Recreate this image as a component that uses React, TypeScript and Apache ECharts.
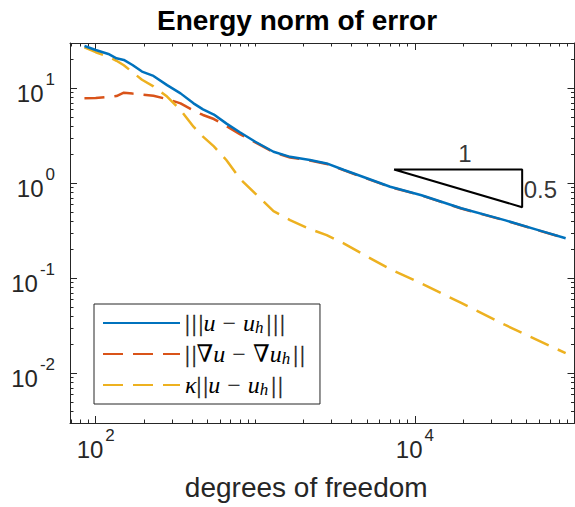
import React, { useEffect, useRef } from 'react';
import * as echarts from 'echarts';

// ---- data ----
const dof = [85, 100, 120, 135, 150, 170, 195, 230, 280, 340, 410, 470, 550, 660, 800, 1000, 1300, 1650, 2200, 2800, 3600, 5000, 7000, 11000, 19500, 36500, 60000, 88000];
const energyErr = [27.9, 25.3, 23, 20.7, 19.9, 17.6, 15, 13.5, 10.8, 8.85, 6.95, 6.0, 5.3, 4.25, 3.45, 2.74, 2.15, 1.9, 1.76, 1.62, 1.38, 1.13, 0.92, 0.75, 0.546, 0.41, 0.32, 0.264];
const gradErr = [7.85, 7.9, 8.1, 8.3, 9.0, 8.8, 8.6, 8.35, 7.7, 6.95, 5.85, 5.24, 4.75, 4.0, 3.3, 2.7, 2.12, 1.87, 1.74, 1.6, 1.37, 1.12, 0.915, 0.745, 0.543, 0.408, 0.318, 0.263];
const l2Err = [27, 24, 21.5, 19.5, 17.5, 14.8, 12.3, 10.5, 8.2, 5.9, 3.95, 3.1, 2.45, 1.75, 1.12, 0.78, 0.51, 0.41, 0.33, 0.285, 0.232, 0.17, 0.125, 0.088, 0.055, 0.0325, 0.022, 0.0163];

const triangleX = [7400, 47000, 47000, 7400];
const triangleY = [1.4, 1.4, 0.56, 1.4];
const runLabel = { x: 20600, y: 2.08, text: '1' };
const riseLabel = { x: 47000, y: 0.86, text: '0.5' };

const X_MIN = 69;
const X_MAX = 100000;
const Y_MIN = 0.003;
const Y_MAX = 30;
const xMajorTicks = [100, 10000];
const xMinorTicks = [70, 80, 90, 200, 300, 400, 500, 600, 700, 800, 900, 1000, 2000, 3000, 4000, 5000, 6000, 7000, 8000, 9000, 20000, 30000, 40000, 50000, 60000, 70000, 80000, 90000, 100000];
const yMajorTicks = [0.01, 0.1, 1, 10];
const yMinorTicks = [0.003, 0.004, 0.005, 0.006, 0.007, 0.008, 0.009, 0.02, 0.03, 0.04, 0.05, 0.06, 0.07, 0.08, 0.09, 0.2, 0.3, 0.4, 0.5, 0.6, 0.7, 0.8, 0.9, 2, 3, 4, 5, 6, 7, 8, 9, 20, 30];

const titleText = 'Energy norm of error';
const xAxisTitle = 'degrees of freedom';
const seriesNames = ['energy', 'grad', 'l2'];
const legendTexts: Record<string, string> = {
  energy: '{v||\u200A|\u200A|}{i|u}{m|−}{i|u}{s|h}{v||\u200A|\u200A|}',
  grad: '{v||\u200A|}{n|∇}{i|u}{m|−}{n|∇}{i|u}{s|h}{v||\u200A|}',
  l2: '{i|κ}{v||\u200A|}{i|u}{m|−}{i|u}{s|h}{v||\u200A|}',
};

const AXIS = '#262626';
const SANS = 'Liberation Sans, Arial, Helvetica, sans-serif';
const SERIF = 'Liberation Serif, DejaVu Serif, serif';

const pow10Label = (v: number) => {
  const e = Math.round(Math.log10(v));
  return `{b|10}{sup|${e}}`;
};

const labelRich = {
  b: { fontSize: 24, lineHeight: 24, padding: [10, 0, 0, 0], fontFamily: SANS, color: AXIS, verticalAlign: 'middle' },
  sup: { fontSize: 17, lineHeight: 18, padding: [0, 0, 17, 2], fontFamily: SANS, color: AXIS, verticalAlign: 'middle' },
};

function xAxisDef(position: string, ticks: number[], len: number, showLine: boolean, showLabel: boolean) {
  const def: any = {
    type: 'log', logBase: 10, min: X_MIN, max: X_MAX, position, gridIndex: 0,
    axisLine: { show: showLine, onZero: false, lineStyle: { color: AXIS, width: 1 } },
    axisTick: { show: true, inside: true, length: len, customValues: ticks, lineStyle: { color: AXIS, width: 1 } },
    axisLabel: showLabel
      ? { show: true, customValues: xMajorTicks, formatter: pow10Label, margin: 9, rich: labelRich }
      : { show: false },
    splitLine: { show: false }, minorTick: { show: false }, minorSplitLine: { show: false },
  };
  if (showLabel) {
    def.name = xAxisTitle;
    def.nameLocation = 'middle';
    def.nameGap = 50;
    def.nameTextStyle = { fontSize: 28, fontFamily: SANS, color: AXIS, padding: [0, 32, 0, 0] };
  }
  return def;
}

function yAxisDef(position: string, ticks: number[], len: number, showLine: boolean, showLabel: boolean) {
  return {
    type: 'log', logBase: 10, min: Y_MIN, max: Y_MAX, position, gridIndex: 0,
    axisLine: { show: showLine, onZero: false, lineStyle: { color: AXIS, width: 1 } },
    axisTick: { show: true, inside: true, length: len, customValues: ticks, lineStyle: { color: AXIS, width: 1 } },
    axisLabel: showLabel
      ? { show: true, customValues: yMajorTicks, formatter: pow10Label, margin: 15, rich: labelRich }
      : { show: false },
    splitLine: { show: false }, minorTick: { show: false }, minorSplitLine: { show: false },
  } as any;
}

const zip = (xs: number[], ys: number[]) => xs.map((x, i) => [x, ys[i]]);

const LEG_FS = 24;
const legendRich = {
  n: { fontFamily: SERIF, fontSize: LEG_FS, lineHeight: 24, color: '#000', verticalAlign: 'middle' },
  v: { fontFamily: SERIF, fontSize: LEG_FS, lineHeight: 24, color: '#1a1a1a', textBorderColor: '#1a1a1a', textBorderWidth: 0.4, verticalAlign: 'middle' },
  m: { fontFamily: SERIF, fontSize: LEG_FS, lineHeight: 24, color: '#000', padding: [0, 7, 0, 7], verticalAlign: 'middle' },
  i: { fontFamily: SERIF, fontSize: LEG_FS, lineHeight: 24, fontStyle: 'italic', color: '#000', verticalAlign: 'middle' },
  s: { fontFamily: SERIF, fontSize: 17, lineHeight: 14, fontStyle: 'italic', padding: [9, 3, 0, 0], color: '#000', verticalAlign: 'middle' },
};

export default function App() {
  const ref = useRef<HTMLDivElement>(null);
  useEffect(() => {
    if (!ref.current) return;
    const chart = echarts.init(ref.current, undefined, { renderer: 'svg' });
    const option: any = {
      animation: false,
      backgroundColor: '#ffffff',
      title: {
        text: titleText,
        left: 157,
        top: 0,
        padding: [6, 0, 0, 0],
        textStyle: { fontSize: 28, fontWeight: 'bold', fontFamily: SANS, color: '#000' },
      },
      grid: { left: 70, right: 0.5, top: 43, bottom: 84, containLabel: false },
      legend: {
        show: true,
        data: seriesNames,
        orient: 'vertical',
        left: 94,
        top: 304,
        padding: [6, 15, 6, 8],
        itemGap: 5,
        itemWidth: 77,
        itemHeight: 14,
        backgroundColor: '#ffffff',
        borderColor: AXIS,
        borderWidth: 1,
        borderRadius: 0,
        selectedMode: false,
        itemStyle: { opacity: 0, borderWidth: 0 },
        formatter: (name: string) => legendTexts[name],
        textStyle: {
          fontFamily: SERIF,
          fontSize: LEG_FS,
          color: '#000',
          rich: legendRich,
        },
      },
      xAxis: [
        xAxisDef('bottom', xMajorTicks, 7, true, true),
        xAxisDef('bottom', xMinorTicks, 3.5, false, false),
        xAxisDef('top', xMajorTicks, 7, true, false),
        xAxisDef('top', xMinorTicks, 3.5, false, false),
      ],
      yAxis: [
        yAxisDef('left', yMajorTicks, 7, true, true),
        yAxisDef('left', yMinorTicks, 3.5, false, false),
        yAxisDef('right', yMajorTicks, 7, true, false),
        yAxisDef('right', yMinorTicks, 3.5, false, false),
      ],
      series: [
        {
          name: 'grad', type: 'line', xAxisIndex: 0, yAxisIndex: 0, z: 2,
          data: zip(dof, gradErr), symbol: 'none', showSymbol: false,
          lineStyle: { color: '#D95319', width: 2.5, type: [20, 10], cap: 'butt' },
          itemStyle: { color: '#D95319' },
        },
        {
          name: 'l2', type: 'line', xAxisIndex: 0, yAxisIndex: 0, z: 2,
          data: zip(dof, l2Err), symbol: 'none', showSymbol: false,
          lineStyle: { color: '#EDB120', width: 2.5, type: [20, 10], cap: 'butt' },
          itemStyle: { color: '#EDB120' },
        },
        {
          name: 'energy', type: 'line', xAxisIndex: 0, yAxisIndex: 0, z: 3,
          data: zip(dof, energyErr), symbol: 'none', showSymbol: false,
          lineStyle: { color: '#0072BD', width: 2.5, type: 'solid' },
          itemStyle: { color: '#0072BD' },
        },
        {
          name: 'triangle', type: 'line', xAxisIndex: 0, yAxisIndex: 0, z: 4,
          data: zip(triangleX, triangleY), symbol: 'none', showSymbol: false,
          lineStyle: { color: '#000', width: 2, type: 'solid' },
          itemStyle: { color: '#000' }, silent: true,
        },
        {
          name: 'slopeLabels', type: 'scatter', xAxisIndex: 0, yAxisIndex: 0, z: 5, silent: true,
          symbolSize: 1,
          itemStyle: { color: 'rgba(0,0,0,0)' },
          data: [
            { value: [runLabel.x, runLabel.y], label: { show: true, position: 'inside', formatter: runLabel.text } },
            { value: [riseLabel.x, riseLabel.y], label: { show: true, position: 'right', distance: 1, formatter: riseLabel.text } },
          ],
          label: { show: true, fontSize: 24, fontFamily: SANS, color: '#000' },
        },
      ],
    };
    chart.setOption(option);
    return () => chart.dispose();
  }, []);
  return (
    <div
      ref={ref}
      style={{ position: 'absolute', left: 0, top: 0, width: 575, height: 507, background: '#fff' }}
    />
  );
}
